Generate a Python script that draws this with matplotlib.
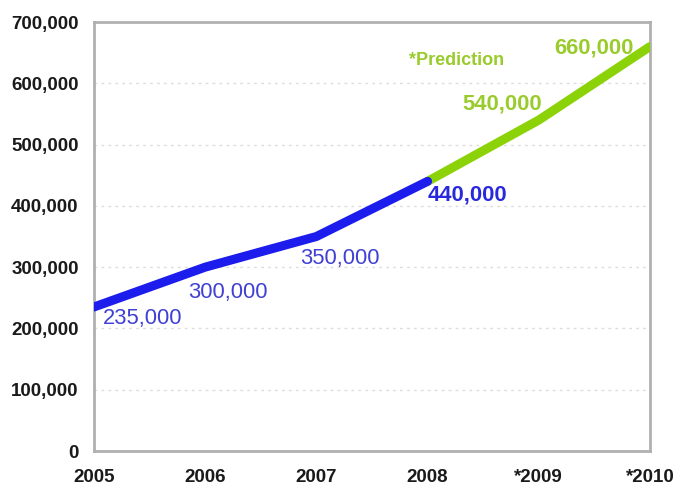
import matplotlib
matplotlib.use("Agg")
import matplotlib.pyplot as plt
from matplotlib.ticker import FuncFormatter

years = [2005, 2006, 2007, 2008, 2009, 2010]
year_labels = ["2005", "2006", "2007", "2008", "*2009", "*2010"]
actual_years = [2005, 2006, 2007, 2008]
actual_values = [235000, 300000, 350000, 440000]
predicted_years = [2008, 2009, 2010]
predicted_values = [440000, 540000, 660000]
y_ticks = [0, 100000, 200000, 300000, 400000, 500000, 600000, 700000]

BLUE_LINE = "#1c1cec"
BLUE_TEXT = "#4040d4"
BLUE_BOLD = "#2828dc"
GREEN_LINE = "#8cd208"
GREEN_TEXT = "#9acb2c"

plt.rcParams["font.family"] = ["Liberation Sans", "DejaVu Sans"]

fig = plt.figure(figsize=(6.82, 4.88), dpi=100)
ax = fig.add_axes([94 / 682, 37 / 488, 556 / 682, 429 / 488])

ax.plot(predicted_years, predicted_values, color=GREEN_LINE, lw=6.5,
        solid_capstyle="round", solid_joinstyle="round", zorder=3)
ax.plot(actual_years, actual_values, color=BLUE_LINE, lw=6.5,
        solid_capstyle="round", solid_joinstyle="round", zorder=4)

ax.set_xlim(2005, 2010)
ax.set_ylim(0, 700000)
ax.set_xticks(years)
ax.set_xticklabels(year_labels)
ax.set_yticks(y_ticks)
ax.yaxis.set_major_formatter(FuncFormatter(lambda v, p: f"{int(v):,}"))
ax.tick_params(axis="both", length=0, labelsize=13.5, colors="#1a1a1a")
ax.tick_params(axis="y", pad=11)
ax.tick_params(axis="x", pad=13)
for lab in ax.get_xticklabels() + ax.get_yticklabels():
    lab.set_fontweight("bold")

for v in y_ticks[1:-1]:
    ax.axhline(v, color="#dddddd", lw=1, ls=(0, (2, 3)), zorder=1)

for s in ax.spines.values():
    s.set_color("#b0b0b0")
    s.set_linewidth(2)

# value labels: (x, y, dx px, dy px, colour, weight)
labels = [
    (2005, 235000, 9, -12, BLUE_TEXT, "normal"),
    (2006, 300000, -17, -25, BLUE_TEXT, "normal"),
    (2007, 350000, -16, -22, BLUE_TEXT, "normal"),
    (2008, 440000, 0, -14, BLUE_BOLD, "bold"),
    (2009, 540000, -76, 16, GREEN_TEXT, "bold"),
    (2010, 660000, -96, -1, GREEN_TEXT, "bold"),
]
for x, y, dx, dy, c, w in labels:
    ax.annotate(f"{y:,}", (x, y), xytext=(dx, dy), textcoords="offset pixels",
                ha="left", va="center", fontsize=15.8, color=c, fontweight=w,
                zorder=5)

ax.text(0.567, 0.911, "*Prediction", transform=ax.transAxes, ha="left",
        va="center", fontsize=13, fontweight="bold", color=GREEN_TEXT)

fig.savefig("out.png", dpi=100)
